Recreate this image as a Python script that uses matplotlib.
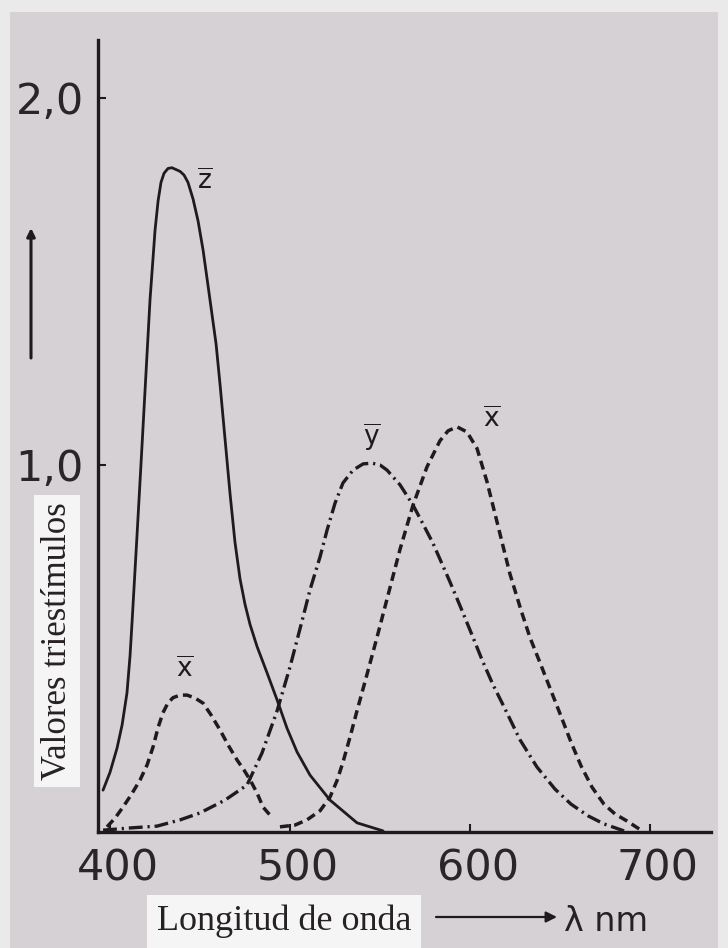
import matplotlib.pyplot as plt
from matplotlib.patches import Rectangle
from matplotlib.transforms import ScaledTranslation

plt.rcParams['mathtext.fontset'] = 'dejavusans'
plt.rcParams['lines.scale_dashes'] = False

INK = '#1f1b1d'
PAPER = '#d6d1d4'

# z-bar, solid line
z_nm = [396.1, 400.0, 403.9, 406.7, 409.4, 411.1, 412.2, 413.6, 415.0, 417.5, 419.4, 422.2,
        425.0, 426.7, 428.3, 430.0, 432.2, 434.4, 438.9, 441.1, 443.3, 446.1, 448.9, 451.7,
        454.4, 458.9, 461.1, 463.9, 466.7, 469.4, 472.2, 475.0, 477.8, 481.7, 487.2, 492.8,
        498.3, 503.9, 511.1, 522.2, 537.2, 551.7]
z_val = [0.114, 0.163, 0.229, 0.292, 0.379, 0.480, 0.570, 0.690, 0.810, 1.030, 1.200, 1.450,
         1.640, 1.720, 1.770, 1.795, 1.808, 1.810, 1.800, 1.790, 1.770, 1.725, 1.665, 1.585,
         1.490, 1.330, 1.220, 1.070, 0.920, 0.790, 0.690, 0.620, 0.565, 0.505, 0.434, 0.360,
         0.283, 0.218, 0.155, 0.087, 0.025, 0.003]

# y-bar, dash-dot line
y_nm = [396.1, 411.1, 426.1, 438.9, 450.0, 463.9, 476.1, 484.4, 492.8, 500.0, 507.2, 511.1,
        516.7, 520.6, 525.0, 529.4, 535.0, 540.6, 545.6, 550.0, 553.9, 561.1, 568.3, 573.9,
        579.4, 588.9, 595.0, 601.1, 606.7, 612.8, 618.9, 627.8, 637.2, 647.2, 656.1, 665.6,
        674.4, 685.6]
y_val = [0.005, 0.011, 0.016, 0.033, 0.052, 0.087, 0.128, 0.215, 0.330, 0.450, 0.585, 0.660,
         0.750, 0.823, 0.896, 0.951, 0.986, 1.003, 1.005, 1.000, 0.986, 0.946, 0.891, 0.839,
         0.787, 0.681, 0.610, 0.537, 0.469, 0.401, 0.341, 0.251, 0.177, 0.117, 0.076, 0.044,
         0.022, 0.003]

# x-bar, dashed line: short blue lobe and the main red lobe
xb_nm = [398.3, 402.8, 407.2, 411.7, 416.7, 420.6, 423.9, 426.7, 429.4, 432.2, 435.0, 438.9,
         442.8, 447.2, 451.7, 456.1, 461.1, 465.6, 470.6, 474.4, 477.8, 481.7, 485.0, 487.8, 490.0]
xb_val = [0.014, 0.038, 0.068, 0.101, 0.142, 0.183, 0.232, 0.285, 0.325, 0.352, 0.366, 0.373,
          0.373, 0.365, 0.351, 0.319, 0.278, 0.237, 0.196, 0.169, 0.142, 0.106, 0.068, 0.052, 0.041]

xr_nm = [494.4, 502.8, 509.4, 516.7, 522.2, 526.1, 529.4, 533.3, 537.2, 542.8, 548.3, 553.9,
         561.1, 568.3, 576.1, 583.3, 587.8, 592.8, 598.3, 603.9, 609.4, 615.0, 618.9, 622.2,
         628.3, 633.3, 639.4, 645.0, 650.6, 656.1, 661.7, 667.8, 674.4, 680.6, 687.2, 695.0]
xr_val = [0.014, 0.019, 0.033, 0.058, 0.095, 0.140, 0.190, 0.258, 0.330, 0.430, 0.530, 0.635,
          0.770, 0.890, 0.995, 1.066, 1.093, 1.104, 1.090, 1.045, 0.955, 0.845, 0.768, 0.703,
          0.605, 0.530, 0.455, 0.385, 0.315, 0.245, 0.180, 0.122, 0.076, 0.049, 0.030, 0.005]

x_ticks = [400, 500, 600, 700]
y_ticks = [1.0, 2.0]
y_tick_labels = ['1,0', '2,0']

curve_labels = [(r'$\overline{\mathrm{z}}$', 452.8, 1.771),
                (r'$\overline{\mathrm{x}}$', 441.7, 0.441),
                (r'$\overline{\mathrm{y}}$', 545.6, 1.076),
                (r'$\overline{\mathrm{x}}$', 612.2, 1.123)]

fig = plt.figure(figsize=(7.28, 9.48), dpi=100, facecolor='#ebeaeb')
fig.add_artist(Rectangle((10 / 728, 0), 708 / 728, 936 / 948, transform=fig.transFigure,
                         facecolor=PAPER, edgecolor='none', zorder=-10))

ax = fig.add_axes([98 / 728, 116 / 948, 613 / 728, 792 / 948])
ax.set_facecolor('none')
ax.set_xlim(393.3, 733.9)
ax.set_ylim(0, 2.158)

ax.plot(z_nm, z_val, color=INK, lw=2.0, solid_joinstyle='round', solid_capstyle='round')
ax.plot(y_nm, y_val, color=INK, lw=2.4, dashes=(10, 3.5, 1.6, 3.5), dash_joinstyle='round')
ax.plot(xb_nm, xb_val, color=INK, lw=2.5, dashes=(6.5, 3.8), dash_joinstyle='round')
ax.plot(xr_nm, xr_val, color=INK, lw=2.5, dashes=(6.5, 3.8), dash_joinstyle='round')

for txt, xv, yv in curve_labels:
    ax.text(xv, yv, txt, fontsize=19, color=INK, ha='center', va='center')

for side in ['top', 'right']:
    ax.spines[side].set_visible(False)
for side in ['left', 'bottom']:
    ax.spines[side].set_linewidth(2.4)
    ax.spines[side].set_color(INK)

ax.set_xticks(x_ticks, [str(t) for t in x_ticks])
ax.set_yticks(y_ticks, y_tick_labels)
ax.tick_params(axis='both', direction='in', length=6, width=1.5, color=INK,
               labelsize=31, labelcolor='#2a2627')
ax.tick_params(axis='x', pad=11)
ax.tick_params(axis='y', pad=10)
shift = ScaledTranslation(8 / 100, 0, fig.dpi_scale_trans)
for lbl in ax.get_xticklabels():
    lbl.set_transform(lbl.get_transform() + shift)

# axis captions in white boxes, as in the scanned figure
fig.text(57 / 728, 1 - 641 / 948, 'Valores triestímulos', rotation=90, family='Liberation Serif',
         fontsize=25, color='#262223', ha='center', va='center',
         bbox=dict(facecolor='#f6f5f5', edgecolor='none', pad=5))
fig.text(284 / 728, 18 / 948, 'Longitud de onda', family='Liberation Serif', fontsize=26,
         color='#262223', ha='center', va='baseline',
         bbox=dict(facecolor='#f6f5f5', edgecolor='none', pad=7))
fig.text(564 / 728, 17 / 948, 'λ nm', fontsize=24, color='#262223', ha='left', va='baseline')

ax.annotate('', xy=(557, 31), xytext=(436, 31), xycoords='figure pixels', textcoords='figure pixels',
            arrowprops=dict(arrowstyle='-|>', color=INK, lw=1.6, mutation_scale=16, shrinkA=0, shrinkB=0),
            annotation_clip=False)
ax.annotate('', xy=(31, 720), xytext=(31, 590), xycoords='figure pixels', textcoords='figure pixels',
            arrowprops=dict(arrowstyle='-|>', color=INK, lw=2.2, mutation_scale=12, shrinkA=0, shrinkB=0),
            annotation_clip=False)

fig.savefig('out.png', dpi=100, facecolor=fig.get_facecolor())
